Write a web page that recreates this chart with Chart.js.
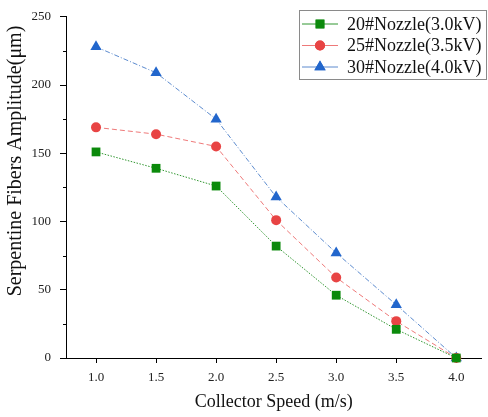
<!DOCTYPE html>
<html>
<head>
<meta charset="utf-8">
<script src="https://cdn.jsdelivr.net/npm/chart.js@4/dist/chart.umd.min.js"></script>
<style>
  html, body { margin: 0; padding: 0; background: #fff; }
  #wrap { width: 488px; height: 417px; }
</style>
</head>
<body>
<div id="wrap"><canvas id="chart" width="488" height="417"></canvas></div>
<script>
// Collector speed (m/s) and fibre amplitude (um) per nozzle
const speeds = [1.0, 1.5, 2.0, 2.5, 3.0, 3.5, 4.0];
const nozzle20 = [151, 139, 126, 82, 46, 21, 0];
const nozzle25 = [169, 164, 155, 101, 59, 27, 0];
const nozzle30 = [228, 209, 175, 118, 77, 39, 0];
const seriesLabels = ['20#Nozzle(3.0kV)', '25#Nozzle(3.5kV)', '30#Nozzle(4.0kV)'];
const yTicks = [0, 50, 100, 150, 200, 250];
const yMinorTicks = [25, 75, 125, 175, 225];
const yTitle = 'Serpentine Fibers Amplitude(μm)';

const SERIF = '"Liberation Serif", "DejaVu Serif", serif';

function toPoints(values) {
    return speeds.map((s, i) => ({ x: s, y: values[i] }));
}

const datasets = [
    {
        label: seriesLabels[0],
        data: toPoints(nozzle20),
        borderColor: '#1a8a1a',
        backgroundColor: '#0b8a0b',
        borderDash: [1.5, 1.5],
        pointStyle: 'rect',
        pointRadius: 6.2
    },
    {
        label: seriesLabels[1],
        data: toPoints(nozzle25),
        borderColor: '#ec6a6a',
        backgroundColor: '#e84444',
        borderDash: [5, 3],
        pointStyle: 'circle',
        pointRadius: 5
    },
    {
        label: seriesLabels[2],
        data: toPoints(nozzle30),
        borderColor: '#4a7ec8',
        backgroundColor: '#2266cc',
        borderDash: [5, 2, 1, 2],
        pointStyle: 'triangle',
        pointRadius: 6.5
    }
].map(d => Object.assign(d, {
    borderWidth: 0.9,
    pointBorderWidth: 0,
    pointBorderColor: d.backgroundColor,
    pointBackgroundColor: d.backgroundColor,
    tension: 0,
    clip: false
}));

// short outward ticks between the labelled ones, plus the rotated y title
const yExtras = {
    id: 'yExtras',
    afterDraw(chart) {
        const y = chart.scales.y;
        const ctx = chart.ctx;
        ctx.save();
        ctx.strokeStyle = '#000';
        ctx.lineWidth = 1;
        yMinorTicks.forEach(v => {
            const py = Math.round(y.getPixelForValue(v)) + 0.5;
            ctx.beginPath();
            ctx.moveTo(y.right - 3, py);
            ctx.lineTo(y.right, py);
            ctx.stroke();
        });
        ctx.translate(16, 161);
        ctx.rotate(-Math.PI / 2);
        ctx.fillStyle = '#111';
        ctx.font = '20px ' + SERIF;
        ctx.textAlign = 'center';
        ctx.textBaseline = 'middle';
        ctx.fillText(yTitle, 0, 0);
        ctx.restore();
    }
};

// boxed legend with line samples through the markers
const boxLegend = {
    id: 'boxLegend',
    afterDraw(chart) {
        const ctx = chart.ctx;
        const x0 = 299, y0 = 10, w = 187, h = 69;
        ctx.save();
        ctx.fillStyle = '#fff';
        ctx.fillRect(x0, y0, w, h);
        ctx.strokeStyle = '#8a8a8a';
        ctx.lineWidth = 1;
        ctx.strokeRect(x0 + 0.5, y0 + 0.5, w, h);
        chart.data.datasets.forEach((ds, i) => {
            const cy = y0 + 14 + i * 21.5;
            ctx.strokeStyle = ds.borderColor;
            ctx.lineWidth = 0.9;
            ctx.setLineDash([]);
            ctx.beginPath();
            ctx.moveTo(x0 + 3, cy);
            ctx.lineTo(x0 + 39, cy);
            ctx.stroke();
            ctx.fillStyle = ds.backgroundColor;
            Chart.helpers.drawPoint(ctx, {
                pointStyle: ds.pointStyle,
                radius: ds.pointRadius,
                rotation: 0,
                borderWidth: 0
            }, x0 + 21, cy);
            ctx.fill();
            ctx.fillStyle = '#111';
            ctx.font = '18px ' + SERIF;
            ctx.textBaseline = 'middle';
            ctx.fillText(ds.label, x0 + 48, cy + 1);
        });
        ctx.restore();
    }
};

new Chart(document.getElementById('chart'), {
    type: 'line',
    data: { datasets: datasets },
    options: {
        responsive: false,
        animation: false,
        layout: { padding: { top: 15, right: 0, bottom: 0, left: 0 } },
        plugins: {
            legend: { display: false },
            tooltip: { enabled: false }
        },
        scales: {
            x: {
                type: 'linear',
                min: 0.75,
                max: 4.21,
                afterBuildTicks: s => { s.ticks = speeds.map(v => ({ value: v })); },
                afterFit: s => { s.height = 59; },
                border: { display: true, color: '#000', width: 1 },
                grid: { drawOnChartArea: false, drawTicks: true, tickLength: 5, tickColor: '#000' },
                ticks: {
                    color: '#222',
                    padding: 7,
                    maxRotation: 0,
                    font: { family: SERIF, size: 13 },
                    callback: v => v.toFixed(1)
                },
                title: {
                    display: true,
                    text: 'Collector Speed (m/s)',
                    color: '#111',
                    font: { family: SERIF, size: 18 },
                    padding: { top: 0, bottom: 4 }
                }
            },
            y: {
                min: 0,
                max: 250,
                afterBuildTicks: s => { s.ticks = yTicks.map(v => ({ value: v })); },
                afterFit: s => { s.width = 66; },
                border: { display: true, color: '#000', width: 1 },
                grid: { drawOnChartArea: false, drawTicks: true, tickLength: 6, tickColor: '#000' },
                ticks: {
                    color: '#222',
                    padding: 9,
                    font: { family: SERIF, size: 13 }
                },
                title: { display: false }
            }
        }
    },
    plugins: [yExtras, boxLegend]
});
</script>
</body>
</html>
